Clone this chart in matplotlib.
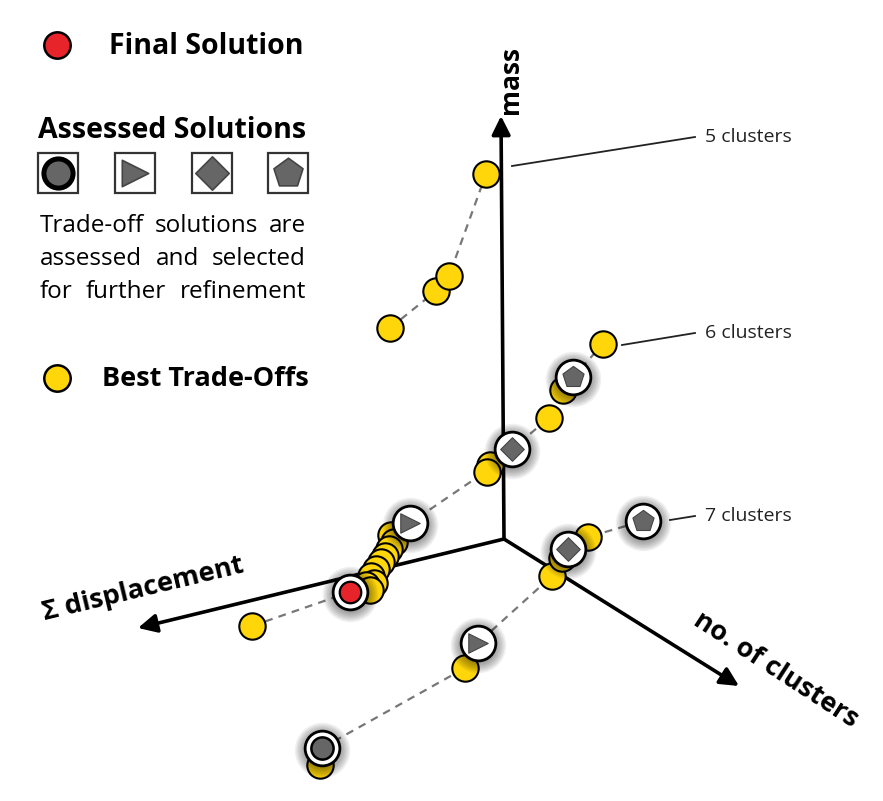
import matplotlib.pyplot as plt
import numpy as np

plt.rcParams['font.family'] = ['Open Sans', 'DejaVu Sans']

W, H = 883, 801

origin = (504, 539)
axis_tips = {'mass': (501, 116), 'disp': (138, 628), 'clus': (739, 686)}

# 5 clusters front
f5_x = [390, 436, 449, 486]
f5_y = [328, 291, 276, 174]

# 6 clusters front
f6_line_x = [252, 350, 366, 376, 385, 391, 410, 488, 512, 549, 573, 603]
f6_line_y = [626, 592, 585, 569, 556, 535, 523, 470, 449, 418, 377, 344]
f6_x = [252, 391, 394, 389, 385, 381, 376, 371, 374, 366, 370, 490, 487, 549, 563, 603]
f6_y = [626, 535, 542, 549, 556, 562, 569, 576, 583, 585, 590, 465, 472, 418, 390, 344]

# 7 clusters front
f7_line_x = [322, 465, 478, 552, 568, 588, 643]
f7_line_y = [748, 668, 643, 576, 549, 537, 521]
f7_x = [320, 465, 552, 562, 588]
f7_y = [765, 668, 576, 558, 537]

# assessed solutions (marker type) and final solution
assessed_x = [410, 512, 573, 322, 478, 568, 643]
assessed_y = [523, 449, 377, 748, 643, 549, 521]
assessed_m = ['>', 'D', 'p', 'o', '>', 'D', 'p']
final_x, final_y = 350, 592

front_labels = ['5 clusters', '6 clusters', '7 clusters']
leader_start = [(512, 166), (622, 345), (670, 520)]
leader_end = [(695, 137), (695, 333), (695, 516)]

YELLOW = '#FFD60A'
RED = '#E8242B'
GREY = '#666666'

fig = plt.figure(figsize=(W / 100, H / 100), dpi=100)
ax = fig.add_axes([0, 0, 1, 1])
ax.set_xlim(0, W)
ax.set_ylim(H, 0)
ax.axis('off')

# axes with arrow heads
for key, tip in axis_tips.items():
    ax.annotate('', xy=tip, xytext=origin,
                arrowprops=dict(arrowstyle='-|>', lw=2.6, color='black',
                                mutation_scale=28, shrinkA=0, shrinkB=0),
                zorder=1)

ax.text(511, 80, 'mass', rotation=90, ha='center', va='center',
        fontsize=19, fontweight='bold')
ax.text(143, 589, 'Σ displacement', rotation=13.5, ha='center', va='center',
        fontsize=19.5, fontweight='bold', rotation_mode='anchor')
ax.text(776, 670, 'no. of clusters', rotation=-33, ha='center', va='center',
        fontsize=19.5, fontweight='bold', rotation_mode='anchor')

# dashed links between trade-offs
dash_kw = dict(color='#777777', lw=1.6, dashes=(3.5, 2.8), zorder=2)
ax.plot(f5_x, f5_y, **dash_kw)
ax.plot(f6_line_x, f6_line_y, **dash_kw)
ax.plot(f7_line_x, f7_line_y, **dash_kw)

# leader lines + front labels
for lab, (x0, y0), (x1, y1) in zip(front_labels, leader_start, leader_end):
    ax.plot([x0, x1], [y0, y1], color='#222222', lw=1.3, zorder=2)
    ax.text(x1 + 10, y1, lab, ha='left', va='center', fontsize=14, color='#222222')

# best trade-offs
yel_kw = dict(s=19 ** 2, c=YELLOW, edgecolors='black', linewidths=1.5, zorder=3)
ax.scatter(f5_x, f5_y, **yel_kw)
ax.scatter(f6_x, f6_y, **yel_kw)
ax.scatter(f7_x, f7_y, **yel_kw)


def glow(x, y, zorder):
    # soft shadow made of stacked translucent discs
    for r in np.linspace(40, 16, 12):
        ax.scatter([x], [y + 2], s=r ** 2, c='black', alpha=0.06,
                   linewidths=0, zorder=zorder)


for x, y in zip(assessed_x + [final_x], assessed_y + [final_y]):
    glow(x, y, 4)

ring_kw = dict(s=25 ** 2, c='white', edgecolors='black', linewidths=2.0, zorder=5)
ax.scatter(assessed_x + [final_x], assessed_y + [final_y], **ring_kw)
for x, y, m in zip(assessed_x, assessed_y, assessed_m):
    if m == 'o':
        ax.scatter([x], [y], s=16 ** 2, marker='o', c=GREY, edgecolors='black',
                   linewidths=1.8, zorder=6)
    else:
        size = {'>': 14, 'D': 12, 'p': 16}[m]
        ax.scatter([x], [y], s=size ** 2, marker=m, c=GREY, edgecolors='#444444',
                   linewidths=0.8, zorder=6)
ax.scatter([final_x], [final_y], s=15.5 ** 2, c=RED, edgecolors='black',
           linewidths=1.6, zorder=6)

# legend block
ax.scatter([57], [45], s=19 ** 2, c=RED, edgecolors='black', linewidths=1.8)
ax.text(109, 46, 'Final Solution', ha='left', va='center', fontsize=20.5,
        fontweight='bold')
ax.text(38, 131, 'Assessed Solutions', ha='left', va='center', fontsize=20.5,
        fontweight='bold')

box_x = [58, 135, 212, 288]
box_m = ['o', '>', 'D', 'p']
for bx, m in zip(box_x, box_m):
    ax.add_patch(plt.Rectangle((bx - 20, 153), 40, 40, fill=False,
                               ec='#333333', lw=1.6))
    if m == 'o':
        ax.scatter([bx], [173], s=21 ** 2, c=GREY, edgecolors='black',
                   linewidths=3.6, zorder=6)
    else:
        size = {'>': 19, 'D': 17, 'p': 22}[m]
        ax.scatter([bx], [173], s=size ** 2, marker=m, c=GREY,
                   edgecolors='#444444', linewidths=1.2, zorder=6)

# justified paragraph
para = ['Trade-off solutions are', 'assessed and selected',
        'for further refinement']
line_y = [226, 259, 292]
left, right = 40, 306
fig.canvas.draw()
renderer = fig.canvas.get_renderer()
for line, ly in zip(para, line_y):
    words = line.split()
    arts = [ax.text(0, ly, w, ha='left', va='center', fontsize=17.5) for w in words]
    widths = [a.get_window_extent(renderer).width for a in arts]
    gap = (right - left - sum(widths)) / (len(words) - 1)
    x = left
    for a, w in zip(arts, widths):
        a.set_x(x)
        x += w + gap

ax.scatter([57], [378], s=19 ** 2, c=YELLOW, edgecolors='black', linewidths=1.8)
ax.text(102, 379, 'Best Trade-Offs', ha='left', va='center', fontsize=19.5,
        fontweight='bold')

fig.savefig('out.png', dpi=100, facecolor='white')
